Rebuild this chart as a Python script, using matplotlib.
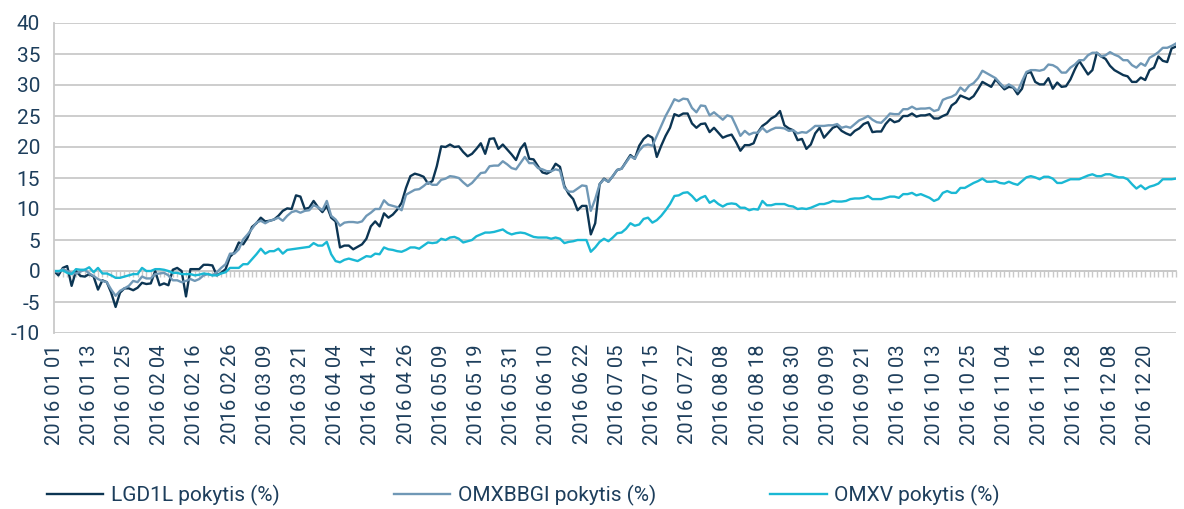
import matplotlib
matplotlib.use("Agg")
import matplotlib.pyplot as plt
import numpy as np

plt.rcParams['font.family'] = ['Roboto', 'DejaVu Sans']
plt.rcParams['axes.unicode_minus'] = False

# datos: kasdienis pokytis (%) per 2016 m. prekybos dienas
date_labels = ["2016 01 01", "2016 01 13", "2016 01 25", "2016 02 04", "2016 02 16",
               "2016 02 26", "2016 03 09", "2016 03 21", "2016 04 04", "2016 04 14",
               "2016 04 26", "2016 05 09", "2016 05 19", "2016 05 31", "2016 06 10",
               "2016 06 22", "2016 07 05", "2016 07 15", "2016 07 27", "2016 08 08",
               "2016 08 18", "2016 08 30", "2016 09 09", "2016 09 21", "2016 10 03",
               "2016 10 13", "2016 10 25", "2016 11 04", "2016 11 16", "2016 11 28",
               "2016 12 08", "2016 12 20"]
label_step = 8

lgd1l = [0, -0.7, 0.5, 0.8, -2.4, 0, -0.8, -0.9, -0.5, -0.9,
         -3.0, -1.5, -1.8, -3.5, -5.8, -3.5, -2.8, -2.8, -3.1, -2.7,
         -1.9, -2.1, -2.0, 0, -2.3, -2.0, -2.3, 0.2, 0.5, 0,
         -4.1, 0.3, 0.3, 0.3, 1.0, 1.0, 0.9, -0.7, -0.3, 0.3,
         2.3, 3.0, 4.6, 4.3, 5.4, 7.1, 7.7, 8.6, 8.0, 8.1,
         8.3, 8.9, 9.7, 10.1, 10.0, 12.2, 12.0, 10.0, 10.2, 11.3,
         10.3, 9.5, 10.5, 8.6, 8.0, 3.8, 4.1, 4.1, 3.5, 3.9,
         4.3, 5.2, 7.2, 8.0, 7.2, 9.3, 8.6, 9.1, 9.9, 11.0,
         13.4, 15.3, 15.7, 15.5, 15.2, 14.1, 14.5, 16.9, 20.1, 20.0,
         20.4, 20.0, 20.1, 19.2, 18.5, 18.9, 19.7, 20.6, 18.9, 21.3,
         21.4, 19.7, 20.4, 19.6, 18.8, 17.9, 19.7, 20.6, 18.1, 18.0,
         16.9, 15.9, 15.7, 16.1, 17.3, 16.8, 13.7, 12.4, 11.6, 9.8,
         10.5, 10.5, 5.9, 7.7, 14.0, 14.9, 14.4, 15.3, 16.3, 16.5,
         17.6, 18.7, 18.1, 20.2, 21.3, 21.9, 21.5, 18.4, 20.2, 21.8,
         23.1, 25.3, 25.0, 25.4, 25.4, 23.8, 23.1, 23.7, 23.8, 22.4,
         23.1, 22.3, 21.5, 21.8, 22.0, 20.8, 19.4, 20.3, 20.3, 20.6,
         22.4, 23.4, 23.9, 24.6, 25.0, 25.8, 23.5, 23.0, 22.7, 21.1,
         21.3, 19.7, 20.4, 22.2, 23.1, 21.5, 22.3, 23.1, 23.4, 22.6,
         22.2, 21.9, 22.6, 23.0, 23.7, 24.0, 22.4, 22.5, 22.5, 23.7,
         24.5, 24.0, 24.2, 25.0, 25.0, 25.4, 24.9, 25.1, 25.1, 25.3,
         24.6, 24.6, 25.0, 25.3, 26.7, 27.2, 28.3, 28.0, 27.7, 28.2,
         29.3, 30.5, 30.1, 29.7, 30.9, 30.1, 29.3, 29.7, 29.6, 28.5,
         29.4, 31.9, 32.1, 30.5, 30.1, 30.1, 31.1, 29.4, 30.4, 29.7,
         29.8, 30.9, 32.5, 33.9, 32.8, 31.7, 32.4, 35.2, 34.6, 34.2,
         33.1, 32.4, 32.0, 31.6, 31.4, 30.5, 30.5, 31.2, 30.8, 32.4,
         32.8, 34.6, 33.9, 33.7, 35.9, 36.2]

omxbbgi = [0, -0.2, 0.3, 0, -0.3, -0.4, -0.1, 0.2, -0.4, -0.8,
           -1.3, -1.6, -1.8, -3.0, -4.0, -3.2, -2.8, -2.4, -1.6, -1.8,
           -0.9, -1.2, -1.2, -0.5, -0.4, -0.3, -0.7, -1.5, -1.5, -1.8,
           -1.6, -1.3, -1.6, -1.3, -0.7, -0.5, -0.7, -0.2, 0.5, 1.1,
           2.8, 2.8, 3.5, 5.1, 5.9, 6.8, 7.8, 8.1, 7.7, 8.1,
           8.3, 8.6, 8.1, 8.9, 9.5, 9.7, 9.4, 9.7, 9.8, 10.6,
           10.3, 9.8, 11.3, 8.9, 8.3, 7.3, 7.8, 7.9, 7.9, 7.8,
           8.0, 8.9, 9.4, 10.0, 10.0, 11.4, 10.7, 10.5, 10.3, 9.8,
           12.3, 12.7, 13.1, 13.2, 13.7, 14.3, 13.9, 13.9, 14.7, 14.9,
           15.3, 15.2, 15.0, 14.3, 13.7, 14.2, 15.0, 15.8, 15.9, 16.9,
           17.0, 17.0, 17.7, 17.2, 16.6, 16.4, 17.4, 18.4, 17.4, 17.4,
           16.6, 16.4, 16.1, 16.1, 16.4, 16.2, 13.4, 12.8, 12.8, 13.3,
           13.8, 13.7, 9.7, 11.6, 14.0, 14.8, 14.4, 15.3, 16.3, 16.5,
           17.5, 18.5, 18.1, 19.4, 20.2, 20.4, 20.2, 21.8, 23.4, 25.0,
           26.3, 27.7, 27.4, 27.8, 27.7, 26.3, 25.6, 26.7, 26.6, 25.1,
           25.6, 25.0, 24.4, 25.1, 24.9, 23.4, 21.8, 22.6, 22.0, 22.3,
           22.3, 23.1, 22.4, 22.8, 23.1, 23.1, 23.0, 22.6, 22.7, 22.2,
           22.4, 22.3, 22.8, 23.4, 23.4, 23.4, 23.5, 23.5, 23.7, 23.1,
           23.3, 23.1, 23.7, 24.3, 24.6, 25.0, 24.4, 24.0, 23.9, 24.6,
           25.4, 25.3, 25.3, 26.1, 26.1, 26.5, 26.1, 26.2, 26.2, 26.3,
           25.8, 26.0, 27.6, 27.9, 28.1, 28.5, 29.6, 29.0, 29.9, 30.3,
           31.1, 32.3, 31.9, 31.5, 31.1, 30.3, 29.6, 30.1, 29.7, 29.0,
           30.6, 32.1, 32.4, 32.4, 32.3, 32.5, 33.3, 33.2, 32.8, 32.0,
           32.0, 32.8, 33.3, 34.0, 34.0, 34.8, 35.2, 35.2, 34.6, 34.8,
           35.3, 34.9, 34.6, 34.0, 34.0, 33.2, 32.8, 33.5, 33.1, 34.4,
           34.8, 35.3, 36.0, 36.0, 36.3, 36.7]

omxv = [0, 0, 0.1, -0.3, -0.5, 0.3, 0.2, 0.2, 0.6, -0.2,
        0.5, -0.4, -0.4, -0.7, -1.1, -1.1, -0.9, -0.7, -0.5, -0.5,
        0.5, 0, 0, 0.3, 0.3, 0.2, 0, -0.3, -0.3, -0.5,
        -0.5, -0.5, -0.7, -0.6, -0.4, -0.5, -0.7, -0.7, -0.4, -0.2,
        0.5, 0.5, 0.5, 1.1, 1.1, 1.9, 2.7, 3.6, 2.8, 3.2,
        3.2, 3.6, 2.8, 3.4, 3.5, 3.6, 3.7, 3.8, 3.9, 4.5,
        4.1, 4.1, 4.7, 2.7, 1.6, 1.4, 1.8, 2.0, 1.8, 1.6,
        2.0, 2.4, 2.3, 2.8, 2.7, 3.8, 3.5, 3.4, 3.2, 3.1,
        3.4, 3.8, 3.8, 3.6, 4.1, 4.6, 4.5, 4.6, 5.2, 5.0,
        5.4, 5.5, 5.2, 4.6, 4.8, 5.0, 5.6, 5.9, 6.2, 6.2,
        6.3, 6.5, 6.7, 6.2, 5.9, 6.1, 6.2, 6.1, 5.8, 5.5,
        5.4, 5.4, 5.4, 5.2, 5.4, 5.2, 4.5, 4.7, 4.8, 5.0,
        5.0, 5.0, 3.1, 3.8, 4.7, 5.2, 4.8, 5.4, 6.1, 6.2,
        6.8, 7.7, 7.3, 7.5, 8.4, 8.6, 7.8, 8.2, 8.9, 9.8,
        10.8, 12.1, 12.2, 12.6, 12.7, 12.1, 11.3, 11.8, 12.1, 11.0,
        11.4, 10.8, 10.4, 10.8, 10.9, 10.8, 10.2, 10.2, 9.8, 10.0,
        9.9, 11.3, 10.6, 10.6, 10.8, 10.8, 10.8, 10.5, 10.4, 10.0,
        10.1, 10.0, 10.2, 10.5, 10.8, 10.8, 11.0, 11.3, 11.2, 11.2,
        11.3, 11.6, 11.7, 11.7, 11.8, 12.1, 11.6, 11.6, 11.6, 11.8,
        12.0, 12.0, 11.8, 12.4, 12.4, 12.6, 12.2, 12.4, 12.1, 11.8,
        11.3, 11.6, 12.6, 12.9, 12.6, 12.6, 13.4, 13.4, 13.8, 14.2,
        14.5, 14.9, 14.4, 14.4, 14.5, 14.2, 14.1, 14.4, 14.1, 13.9,
        14.5, 15.1, 15.3, 15.1, 14.8, 15.2, 15.2, 14.9, 14.2, 14.2,
        14.5, 14.8, 14.8, 14.8, 15.1, 15.4, 15.6, 15.3, 15.3, 15.6,
        15.6, 15.3, 15.1, 15.1, 14.8, 14.0, 13.3, 13.8, 13.2, 13.6,
        13.8, 14.1, 14.8, 14.8, 14.8, 14.9]

series_names = ["LGD1L pokytis (%)", "OMXBBGI pokytis (%)", "OMXV pokytis (%)"]
colors = ["#0c3553", "#7098b6", "#1ab8d4"]
text_color = "#1d3e5c"
grid_color = "#c9c9c9"

x = np.arange(len(lgd1l))

fig = plt.figure(figsize=(11.84, 5.09), dpi=100)
ax = fig.add_axes([54 / 1184, 1 - 333 / 509, (1176 - 54) / 1184, (333 - 23) / 509])

for vals, name, c in zip([lgd1l, omxbbgi, omxv], series_names, colors):
    ax.plot(x, vals, color=c, lw=1.7, label=name)

ax.set_xlim(0, len(x) - 1)
ax.set_ylim(-10, 40)
ax.set_yticks(np.arange(-10, 41, 5))
ax.yaxis.grid(True, color=grid_color, lw=1.3)
ax.set_axisbelow(True)
ax.tick_params(axis='y', length=0, pad=10, labelsize=15, labelcolor=text_color)

ax.set_xticks(x[::label_step])
ax.set_xticklabels(date_labels, rotation=90)
ax.tick_params(axis='x', length=0, pad=8, labelsize=14.5, labelcolor=text_color)

for s in ['top', 'right', 'bottom']:
    ax.spines[s].set_visible(False)
ax.spines['left'].set_color(grid_color)
ax.spines['left'].set_linewidth(1.3)

# nulinė ašis su smulkiomis žymėmis
zero_ax = ax.secondary_xaxis(0.2)
zero_ax.set_xticks(x)
zero_ax.tick_params(axis='x', direction='out', length=4, width=1, color=grid_color,
                    labelbottom=False)
zero_ax.spines['bottom'].set_color(grid_color)
zero_ax.spines['bottom'].set_linewidth(1.3)

leg = fig.legend(loc='center', bbox_to_anchor=(0.442, 1 - 495 / 509), ncol=3,
                 frameon=False, fontsize=15, handlelength=2.7, columnspacing=5.5,
                 handletextpad=0.35)
for t in leg.get_texts():
    t.set_color(text_color)

fig.savefig("out.png", dpi=100)
